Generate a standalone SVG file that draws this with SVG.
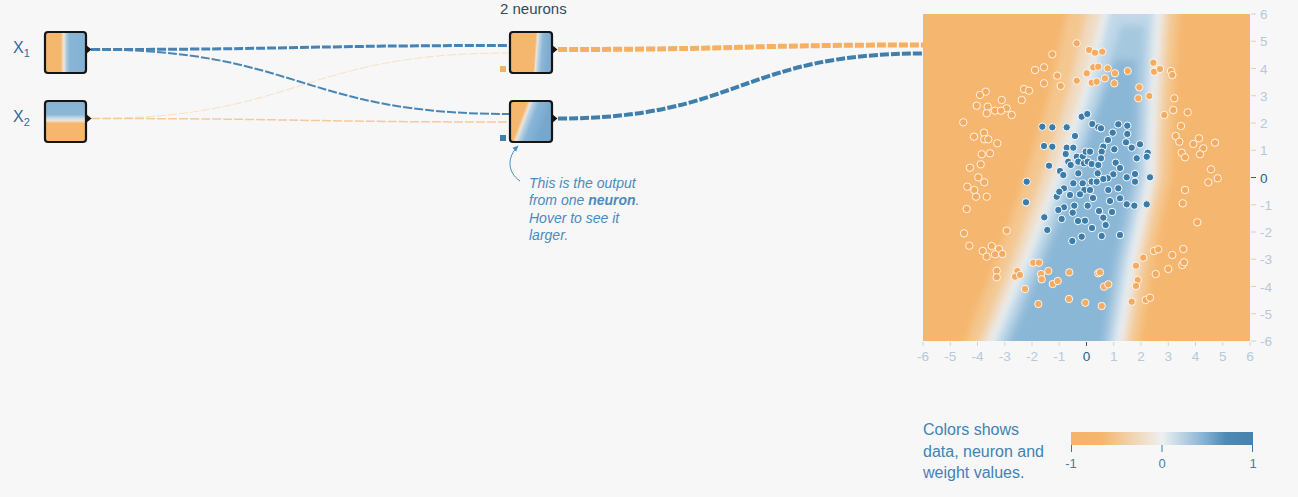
<svg xmlns="http://www.w3.org/2000/svg" width="1298" height="497" viewBox="0 0 1298 497">
<style>
text{font-family:"Liberation Sans",Arial,sans-serif}
.nodebox{fill:none;stroke:#151515;stroke-width:2.2}
.tri{fill:#151515}
.link{fill:none;stroke-dasharray:9 2}
.o{fill:#f5ab60;stroke:#fff;stroke-opacity:.85;stroke-width:1}
.b{fill:#3b7cab;stroke:#fff;stroke-width:1}
.ax{font-size:13.5px;fill:#b5c9da}
.ax0{font-size:13.5px;fill:#235f8f}
.tick{stroke:#c5d5e2;stroke-width:1}
.legt{font-size:16px;fill:#4282b6}
.ann{font-size:14px;font-style:italic;fill:#4a8bc0}
</style>
<defs>
<linearGradient id="gx1" x1="45" y1="0" x2="86" y2="0" gradientUnits="userSpaceOnUse">
<stop offset="0" stop-color="#f5b66e"/><stop offset="0.38" stop-color="#f5b66e"/><stop offset="0.46" stop-color="#efe6dc"/><stop offset="0.53" stop-color="#a9c9e0"/><stop offset="0.6" stop-color="#8ab6d6"/><stop offset="1" stop-color="#83b1d4"/>
</linearGradient>
<linearGradient id="gx2" x1="0" y1="101" x2="0" y2="142" gradientUnits="userSpaceOnUse">
<stop offset="0" stop-color="#86b3d5"/><stop offset="0.33" stop-color="#8cb7d7"/><stop offset="0.42" stop-color="#c8dcea"/><stop offset="0.48" stop-color="#f0e2d0"/><stop offset="0.55" stop-color="#f5b66e"/><stop offset="1" stop-color="#f5b66e"/>
</linearGradient>
<linearGradient id="gn1" x1="527" y1="52" x2="548" y2="53.5" gradientUnits="userSpaceOnUse">
<stop offset="0" stop-color="#f5b66e"/><stop offset="0.36" stop-color="#f5b66e"/><stop offset="0.45" stop-color="#f1e3d2"/><stop offset="0.55" stop-color="#b9d4e7"/><stop offset="0.72" stop-color="#8cb8d7"/><stop offset="1" stop-color="#7eadd1"/>
</linearGradient>
<linearGradient id="gn2" x1="510.4" y1="116.1" x2="542.2" y2="128" gradientUnits="userSpaceOnUse">
<stop offset="0" stop-color="#f5b66e"/><stop offset="0.31" stop-color="#f5b66e"/><stop offset="0.41" stop-color="#efe3d5"/><stop offset="0.5" stop-color="#b3d0e5"/><stop offset="0.65" stop-color="#89b6d6"/><stop offset="1" stop-color="#76a8cf"/>
</linearGradient>
<linearGradient id="glegend" x1="0" y1="0" x2="1" y2="0">
<stop offset="0" stop-color="#f5b36a"/><stop offset="0.17" stop-color="#f5b66f"/><stop offset="0.5" stop-color="#eef0f0"/><stop offset="0.72" stop-color="#8ab6d6"/><stop offset="0.85" stop-color="#4f8ab4"/><stop offset="1" stop-color="#4682ad"/>
</linearGradient>
<clipPath id="plotClip"><rect x="923" y="14" width="327" height="327"/></clipPath>
<filter id="soft" x="-20%" y="-20%" width="140%" height="140%"><feGaussianBlur stdDeviation="3.5"/></filter>
<marker id="annArrow" viewBox="0 0 10 10" refX="8" refY="5" markerWidth="7" markerHeight="7" orient="auto">
<path d="M0,1 L9,5 L0,9 z" fill="#4a8bc0"/>
</marker>
</defs>
<rect x="0" y="0" width="1298" height="497" fill="#f7f7f7"/>

<g id="connectors">
<path class="link" d="M91,118.5 C300,118.5 300,53 509,53" stroke="#f7e0c5" stroke-width="1"/>
<path class="link" d="M91,118.5 C300,118.5 300,122 509,122" stroke="#f3c99c" stroke-width="1.5"/>
<path class="link" d="M91,49.5 C300,49.5 300,114 509,114" stroke="#4a86b5" stroke-width="2"/>
<path class="link" d="M91,49.5 C300,49.5 300,45.5 509,45.5" stroke="#4682b4" stroke-width="3"/>
<path class="link" d="M558,49.5 C740,49.5 740,45 923,45" stroke="#f5b062" stroke-width="5"/>
<path class="link" d="M558,118.5 C740,118.5 740,53.5 923,53.5" stroke="#3f7fab" stroke-width="4"/>
<rect x="500" y="66" width="6" height="6" fill="#f5b062"/>
<rect x="500" y="135" width="6" height="6" fill="#3f7fab"/>
</g>

<text x="500" y="14" font-size="15" fill="#34495e">2 neurons</text>

<g id="node-x1">
<rect x="45" y="32" width="41" height="41" rx="3" fill="url(#gx1)"/>
<rect class="nodebox" x="45" y="32" width="41" height="41" rx="3"/>
<polygon class="tri" points="86,45 91.5,49.5 86,54"/>
<text x="13" y="53" font-size="16" fill="#35699a">X<tspan font-size="11" dy="4">1</tspan></text>
</g>
<g id="node-x2">
<rect x="45" y="101" width="41" height="41" rx="3" fill="url(#gx2)"/>
<rect class="nodebox" x="45" y="101" width="41" height="41" rx="3"/>
<polygon class="tri" points="86,114 91.5,118.5 86,123"/>
<text x="13" y="122" font-size="16" fill="#35699a">X<tspan font-size="11" dy="4">2</tspan></text>
</g>
<g id="node-n1">
<rect x="510" y="32" width="42" height="41" rx="3" fill="url(#gn1)"/>
<rect class="nodebox" x="510" y="32" width="42" height="41" rx="3"/>
<polygon class="tri" points="552,45 557.5,49.5 552,54"/>
</g>
<g id="node-n2">
<rect x="510" y="101" width="42" height="41" rx="3" fill="url(#gn2)"/>
<rect class="nodebox" x="510" y="101" width="42" height="41" rx="3"/>
<polygon class="tri" points="552,114 557.5,118.5 552,123"/>
</g>

<g id="annotation">
<path d="M520,181 C507,172 507,157 518,146" fill="none" stroke="#4a8bc0" stroke-width="1" marker-end="url(#annArrow)"/>
<text class="ann" x="529" y="188">This is the output</text>
<text class="ann" x="529" y="205">from one <tspan font-weight="bold">neuron</tspan>.</text>
<text class="ann" x="529" y="223">Hover to see it</text>
<text class="ann" x="529" y="240">larger.</text>
</g>

<g id="node-output">
<g clip-path="url(#plotClip)">
<rect x="923" y="14" width="327" height="327" fill="#f5b770"/>
<g filter="url(#soft)">
<polygon fill="#f4c790" points="1073,-10 1067,14 1050,95 1026,177 997,260 966,341 956,365 1139,365 1139,341 1152,260 1170,177 1173,95 1178,14 1178,-10"/>
<polygon fill="#f0dbc2" points="1093,-10 1087,14 1068,95 1042,177 1012,260 980,341 970,365 1124,365 1129,341 1142,260 1160,177 1163,95 1168,14 1168,-10"/>
<polygon fill="#e9eef1" points="1107,-10 1101,14 1081,95 1054,177 1022,260 988,341 978,365 1118,365 1123,341 1136,260 1154,177 1157,95 1162,14 1162,-10"/>
<polygon fill="#c0d8e8" points="1115,-10 1109,14 1089,95 1062,177 1030,260 996,341 986,365 1110,365 1115,341 1128,260 1146,177 1149,95 1154,14 1154,-10"/>
<polygon fill="#a6c8df" points="1121,25 1099,95 1070,177 1038,260 1004,341 994,365 1104,365 1109,341 1122,260 1140,177 1143,95 1145,25"/>
<polygon fill="#8bb7d7" points="1115,60 1094,120 1076,177 1044,260 1010,341 1000,365 1100,365 1104,341 1116,260 1134,177 1137,120 1136,60"/>
</g>
</g>
<g id="points">
<circle class="o" r="3.7" cx="1076.7" cy="43.3"/><circle class="o" r="3.7" cx="1052.3" cy="54.3"/><circle class="o" r="3.7" cx="1035" cy="70"/><circle class="o" r="3.7" cx="1044" cy="67.3"/><circle class="o" r="3.7" cx="1057.3" cy="75.7"/><circle class="o" r="3.7" cx="1044" cy="83.3"/><circle class="o" r="3.7" cx="1076.7" cy="80.7"/><circle class="o" r="3.7" cx="1060.7" cy="86"/><circle class="o" r="3.7" cx="1024" cy="89"/><circle class="o" r="3.7" cx="1029" cy="90.7"/><circle class="o" r="3.7" cx="1021.7" cy="100"/><circle class="o" r="3.7" cx="985.7" cy="91.7"/><circle class="o" r="3.7" cx="980" cy="95"/><circle class="o" r="3.7" cx="1001.7" cy="100"/><circle class="o" r="3.7" cx="976.7" cy="105.7"/><circle class="o" r="3.7" cx="987.7" cy="106.7"/><circle class="o" r="3.7" cx="1006.7" cy="108.3"/><circle class="o" r="3.7" cx="995" cy="110.7"/><circle class="o" r="3.7" cx="1001" cy="110.7"/><circle class="o" r="3.7" cx="986.7" cy="113.3"/><circle class="o" r="3.7" cx="1011.7" cy="115"/><circle class="o" r="3.7" cx="963.3" cy="122.3"/><circle class="o" r="3.7" cx="974" cy="136.7"/><circle class="o" r="3.7" cx="984" cy="132.7"/><circle class="o" r="3.7" cx="984.3" cy="139.3"/><circle class="o" r="3.7" cx="988.3" cy="139.3"/><circle class="o" r="3.7" cx="997.3" cy="143.3"/><circle class="o" r="3.7" cx="981.7" cy="154.3"/><circle class="o" r="3.7" cx="990" cy="153.3"/><circle class="o" r="3.7" cx="980.7" cy="164.3"/><circle class="o" r="3.7" cx="970" cy="167.7"/><circle class="o" r="3.7" cx="978.3" cy="177.3"/>
<circle class="o" r="3.7" cx="1089" cy="50"/><circle class="o" r="3.7" cx="1095" cy="52.7"/><circle class="o" r="3.7" cx="1102.3" cy="51.7"/><circle class="o" r="3.7" cx="1086.7" cy="73.3"/><circle class="o" r="3.7" cx="1093.3" cy="67.3"/><circle class="o" r="3.7" cx="1098.3" cy="66.7"/><circle class="o" r="3.7" cx="1107.7" cy="68.3"/><circle class="o" r="3.7" cx="1115" cy="73.3"/><circle class="o" r="3.7" cx="1114.3" cy="83.3"/><circle class="o" r="3.7" cx="1105" cy="78.3"/><circle class="o" r="3.7" cx="1091.7" cy="82.7"/><circle class="o" r="3.7" cx="1096.7" cy="81.7"/><circle class="o" r="3.7" cx="1127.7" cy="71"/><circle class="o" r="3.7" cx="1153.3" cy="62.7"/><circle class="o" r="3.7" cx="1154" cy="71.7"/><circle class="o" r="3.7" cx="1160" cy="69"/><circle class="o" r="3.7" cx="1171" cy="71"/><circle class="o" r="3.7" cx="1172.3" cy="75"/><circle class="o" r="3.7" cx="1139.3" cy="87.3"/><circle class="o" r="3.7" cx="1138.3" cy="98.3"/><circle class="o" r="3.7" cx="1149.3" cy="96"/><circle class="o" r="3.7" cx="1174.3" cy="98.3"/><circle class="o" r="3.7" cx="1173.3" cy="110"/><circle class="o" r="3.7" cx="1164.3" cy="115"/><circle class="o" r="3.7" cx="1187.7" cy="112.3"/><circle class="o" r="3.7" cx="1181" cy="126"/><circle class="o" r="3.7" cx="1175.7" cy="136"/><circle class="o" r="3.7" cx="1179.3" cy="141.7"/><circle class="o" r="3.7" cx="1199" cy="138.3"/><circle class="o" r="3.7" cx="1193.3" cy="144"/><circle class="o" r="3.7" cx="1203.3" cy="148.3"/><circle class="o" r="3.7" cx="1215" cy="142.7"/><circle class="o" r="3.7" cx="1181.7" cy="152.7"/><circle class="o" r="3.7" cx="1185" cy="157.3"/><circle class="o" r="3.7" cx="1200" cy="154.3"/><circle class="o" r="3.7" cx="1211" cy="169.3"/><circle class="o" r="3.7" cx="1217.7" cy="178.3"/>
<circle class="o" r="3.7" cx="984.3" cy="182.3"/><circle class="o" r="3.7" cx="967.3" cy="186.7"/><circle class="o" r="3.7" cx="974.3" cy="190"/><circle class="o" r="3.7" cx="976" cy="196.7"/><circle class="o" r="3.7" cx="986.7" cy="196.7"/><circle class="o" r="3.7" cx="966.7" cy="209"/><circle class="o" r="3.7" cx="964" cy="233.3"/><circle class="o" r="3.7" cx="1006.7" cy="230.7"/><circle class="o" r="3.7" cx="969.3" cy="245.7"/><circle class="o" r="3.7" cx="982.7" cy="251"/><circle class="o" r="3.7" cx="991.7" cy="246"/><circle class="o" r="3.7" cx="999" cy="249"/><circle class="o" r="3.7" cx="986.7" cy="256.7"/><circle class="o" r="3.7" cx="995" cy="254.3"/><circle class="o" r="3.7" cx="1002.3" cy="254"/><circle class="o" r="3.7" cx="996.7" cy="270.7"/><circle class="o" r="3.7" cx="996.7" cy="277.3"/><circle class="o" r="3.7" cx="1017.3" cy="271"/><circle class="o" r="3.7" cx="1015" cy="276.7"/><circle class="o" r="3.7" cx="1020" cy="275"/><circle class="o" r="3.7" cx="1033.3" cy="262.7"/><circle class="o" r="3.7" cx="1039" cy="262.7"/><circle class="o" r="3.7" cx="1041" cy="274"/><circle class="o" r="3.7" cx="1048.3" cy="271"/><circle class="o" r="3.7" cx="1041.7" cy="279.3"/><circle class="o" r="3.7" cx="1052.7" cy="284"/><circle class="o" r="3.7" cx="1057.7" cy="281"/><circle class="o" r="3.7" cx="1069.3" cy="272.3"/><circle class="o" r="3.7" cx="1025" cy="289"/><circle class="o" r="3.7" cx="1038.3" cy="304"/><circle class="o" r="3.7" cx="1069" cy="299"/><circle class="o" r="3.7" cx="1085.3" cy="302.7"/>
<circle class="o" r="3.7" cx="1185" cy="190"/><circle class="o" r="3.7" cx="1182.7" cy="203.3"/><circle class="o" r="3.7" cx="1197.3" cy="222.3"/><circle class="o" r="3.7" cx="1208.3" cy="182.3"/><circle class="o" r="3.7" cx="1143.3" cy="257.7"/><circle class="o" r="3.7" cx="1154" cy="251"/><circle class="o" r="3.7" cx="1158.3" cy="249.3"/><circle class="o" r="3.7" cx="1172.3" cy="255"/><circle class="o" r="3.7" cx="1183.3" cy="249"/><circle class="o" r="3.7" cx="1182.3" cy="265"/><circle class="o" r="3.7" cx="1184" cy="262.3"/><circle class="o" r="3.7" cx="1168.3" cy="269"/><circle class="o" r="3.7" cx="1155.7" cy="274"/><circle class="o" r="3.7" cx="1136" cy="265.7"/><circle class="o" r="3.7" cx="1137.7" cy="280"/><circle class="o" r="3.7" cx="1136" cy="286"/><circle class="o" r="3.7" cx="1098.3" cy="273.3"/><circle class="o" r="3.7" cx="1100" cy="272.3"/><circle class="o" r="3.7" cx="1104" cy="286.7"/><circle class="o" r="3.7" cx="1108.3" cy="284.3"/><circle class="o" r="3.7" cx="1101.7" cy="306"/><circle class="o" r="3.7" cx="1131.7" cy="301.7"/><circle class="o" r="3.7" cx="1145.7" cy="300"/><circle class="o" r="3.7" cx="1150" cy="297.7"/>
<circle class="b" r="3.7" cx="1042.3" cy="126.7"/><circle class="b" r="3.7" cx="1052.3" cy="127.3"/><circle class="b" r="3.7" cx="1066.7" cy="127.3"/><circle class="b" r="3.7" cx="1044" cy="146"/><circle class="b" r="3.7" cx="1052.3" cy="146.7"/><circle class="b" r="3.7" cx="1066.7" cy="147.7"/><circle class="b" r="3.7" cx="1073.3" cy="147.7"/><circle class="b" r="3.7" cx="1065.7" cy="154"/><circle class="b" r="3.7" cx="1081.7" cy="116.7"/><circle class="b" r="3.7" cx="1087.3" cy="114"/><circle class="b" r="3.7" cx="1076.7" cy="156.7"/><circle class="b" r="3.7" cx="1082.7" cy="156.7"/><circle class="b" r="3.7" cx="1085.7" cy="151.7"/><circle class="b" r="3.7" cx="1049" cy="165.7"/><circle class="b" r="3.7" cx="1060" cy="171"/><circle class="b" r="3.7" cx="1068.3" cy="161.7"/><circle class="b" r="3.7" cx="1070.7" cy="165"/><circle class="b" r="3.7" cx="1078.3" cy="161.7"/><circle class="b" r="3.7" cx="1084" cy="163.3"/><circle class="b" r="3.7" cx="1078.3" cy="173.3"/><circle class="b" r="3.7" cx="1063.3" cy="175"/>
<circle class="b" r="3.7" cx="1092.3" cy="124"/><circle class="b" r="3.7" cx="1098.3" cy="127.3"/><circle class="b" r="3.7" cx="1101" cy="128.3"/><circle class="b" r="3.7" cx="1118.3" cy="124.3"/><circle class="b" r="3.7" cx="1127.3" cy="125.7"/><circle class="b" r="3.7" cx="1112.7" cy="132.7"/><circle class="b" r="3.7" cx="1127.3" cy="134"/><circle class="b" r="3.7" cx="1126" cy="142.3"/><circle class="b" r="3.7" cx="1140" cy="144.3"/><circle class="b" r="3.7" cx="1131.7" cy="147.7"/><circle class="b" r="3.7" cx="1114.3" cy="149.3"/><circle class="b" r="3.7" cx="1103.3" cy="146.7"/><circle class="b" r="3.7" cx="1101.7" cy="151.7"/><circle class="b" r="3.7" cx="1090" cy="151.7"/><circle class="b" r="3.7" cx="1136.7" cy="158.3"/><circle class="b" r="3.7" cx="1147.7" cy="152.7"/><circle class="b" r="3.7" cx="1146.7" cy="156.7"/><circle class="b" r="3.7" cx="1087.7" cy="161.7"/><circle class="b" r="3.7" cx="1091.7" cy="164"/><circle class="b" r="3.7" cx="1098.3" cy="165"/><circle class="b" r="3.7" cx="1101" cy="158.3"/><circle class="b" r="3.7" cx="1115.7" cy="162.7"/><circle class="b" r="3.7" cx="1097.7" cy="173.3"/><circle class="b" r="3.7" cx="1113.3" cy="174.3"/><circle class="b" r="3.7" cx="1135" cy="174"/><circle class="b" r="3.7" cx="1150" cy="177.3"/><circle class="b" r="3.7" cx="1126.7" cy="177.3"/><circle class="b" r="3.7" cx="1107.7" cy="178.3"/>
<circle class="b" r="3.7" cx="1026.7" cy="181.7"/><circle class="b" r="3.7" cx="1026" cy="202.3"/><circle class="b" r="3.7" cx="1044.3" cy="217.3"/><circle class="b" r="3.7" cx="1047.3" cy="230"/><circle class="b" r="3.7" cx="1072.3" cy="241"/><circle class="b" r="3.7" cx="1081.7" cy="236.7"/><circle class="b" r="3.7" cx="1056.7" cy="196.7"/><circle class="b" r="3.7" cx="1064" cy="188.3"/><circle class="b" r="3.7" cx="1059.3" cy="191.7"/><circle class="b" r="3.7" cx="1073.3" cy="183.3"/><circle class="b" r="3.7" cx="1082.7" cy="183.3"/><circle class="b" r="3.7" cx="1084.3" cy="190"/><circle class="b" r="3.7" cx="1080" cy="194.3"/><circle class="b" r="3.7" cx="1074.3" cy="205.7"/><circle class="b" r="3.7" cx="1064" cy="207.3"/><circle class="b" r="3.7" cx="1058.3" cy="210"/><circle class="b" r="3.7" cx="1072.7" cy="212.7"/><circle class="b" r="3.7" cx="1061.7" cy="219"/><circle class="b" r="3.7" cx="1085" cy="220.7"/>
<circle class="b" r="3.7" cx="1091.7" cy="181.7"/><circle class="b" r="3.7" cx="1096.7" cy="181.7"/><circle class="b" r="3.7" cx="1103.3" cy="179"/><circle class="b" r="3.7" cx="1135" cy="181.7"/><circle class="b" r="3.7" cx="1108.3" cy="190"/><circle class="b" r="3.7" cx="1118.3" cy="188.3"/><circle class="b" r="3.7" cx="1090" cy="190"/><circle class="b" r="3.7" cx="1110" cy="201"/><circle class="b" r="3.7" cx="1120" cy="198.3"/><circle class="b" r="3.7" cx="1126.7" cy="204.3"/><circle class="b" r="3.7" cx="1134.3" cy="205.7"/><circle class="b" r="3.7" cx="1146.7" cy="204.3"/><circle class="b" r="3.7" cx="1087.7" cy="205.7"/><circle class="b" r="3.7" cx="1099" cy="211"/><circle class="b" r="3.7" cx="1103.3" cy="217.7"/><circle class="b" r="3.7" cx="1105.7" cy="225"/><circle class="b" r="3.7" cx="1101.7" cy="236"/><circle class="b" r="3.7" cx="1120" cy="235"/>
<circle class="b" r="3.7" cx="1070" cy="195"/><circle class="b" r="3.7" cx="1093" cy="198"/><circle class="b" r="3.7" cx="1078" cy="221"/><circle class="b" r="3.7" cx="1092" cy="228"/><circle class="b" r="3.7" cx="1112" cy="212"/><circle class="b" r="3.7" cx="1120" cy="168"/><circle class="b" r="3.7" cx="1108" cy="140"/><circle class="b" r="3.7" cx="1075" cy="136"/>
</g>
</g>

<g id="axes">
<line class="tick" x1="1251" y1="14" x2="1256" y2="14"/><line class="tick" x1="1251" y1="41.25" x2="1256" y2="41.25"/><line class="tick" x1="1251" y1="68.5" x2="1256" y2="68.5"/><line class="tick" x1="1251" y1="95.75" x2="1256" y2="95.75"/><line class="tick" x1="1251" y1="123" x2="1256" y2="123"/><line class="tick" x1="1251" y1="150.25" x2="1256" y2="150.25"/><line x1="1251" y1="177.5" x2="1256" y2="177.5" stroke="#235f8f"/><line class="tick" x1="1251" y1="204.75" x2="1256" y2="204.75"/><line class="tick" x1="1251" y1="232" x2="1256" y2="232"/><line class="tick" x1="1251" y1="259.25" x2="1256" y2="259.25"/><line class="tick" x1="1251" y1="286.5" x2="1256" y2="286.5"/><line class="tick" x1="1251" y1="313.75" x2="1256" y2="313.75"/><line class="tick" x1="1251" y1="341" x2="1256" y2="341"/>
<text class="ax" x="1260" y="19">6</text><text class="ax" x="1260" y="46.25">5</text><text class="ax" x="1260" y="73.5">4</text><text class="ax" x="1260" y="100.75">3</text><text class="ax" x="1260" y="128">2</text><text class="ax" x="1260" y="155.25">1</text><text class="ax0" x="1260" y="182.5">0</text><text class="ax" x="1260" y="209.75">-1</text><text class="ax" x="1260" y="237">-2</text><text class="ax" x="1260" y="264.25">-3</text><text class="ax" x="1260" y="291.5">-4</text><text class="ax" x="1260" y="318.75">-5</text><text class="ax" x="1260" y="346">-6</text>
<line class="tick" x1="923" y1="342" x2="923" y2="346"/><line class="tick" x1="950.25" y1="342" x2="950.25" y2="346"/><line class="tick" x1="977.5" y1="342" x2="977.5" y2="346"/><line class="tick" x1="1004.75" y1="342" x2="1004.75" y2="346"/><line class="tick" x1="1032" y1="342" x2="1032" y2="346"/><line class="tick" x1="1059.25" y1="342" x2="1059.25" y2="346"/><line x1="1086.5" y1="342" x2="1086.5" y2="346" stroke="#235f8f"/><line class="tick" x1="1113.75" y1="342" x2="1113.75" y2="346"/><line class="tick" x1="1141" y1="342" x2="1141" y2="346"/><line class="tick" x1="1168.25" y1="342" x2="1168.25" y2="346"/><line class="tick" x1="1195.5" y1="342" x2="1195.5" y2="346"/><line class="tick" x1="1222.75" y1="342" x2="1222.75" y2="346"/><line class="tick" x1="1250" y1="342" x2="1250" y2="346"/>
<g text-anchor="middle">
<text class="ax" x="923" y="361">-6</text><text class="ax" x="950.25" y="361">-5</text><text class="ax" x="977.5" y="361">-4</text><text class="ax" x="1004.75" y="361">-3</text><text class="ax" x="1032" y="361">-2</text><text class="ax" x="1059.25" y="361">-1</text><text class="ax0" x="1086.5" y="361">0</text><text class="ax" x="1113.75" y="361">1</text><text class="ax" x="1141" y="361">2</text><text class="ax" x="1168.25" y="361">3</text><text class="ax" x="1195.5" y="361">4</text><text class="ax" x="1222.75" y="361">5</text><text class="ax" x="1250" y="361">6</text>
</g>
</g>

<g id="legend">
<text class="legt" x="923" y="435">Colors shows</text>
<text class="legt" x="923" y="457">data, neuron and</text>
<text class="legt" x="923" y="478">weight values.</text>
<rect x="1071" y="432" width="182" height="13" fill="url(#glegend)"/>
<g stroke="#3f78a6" stroke-width="1">
<line x1="1071.5" y1="445" x2="1071.5" y2="452"/><line x1="1162" y1="445" x2="1162" y2="452"/><line x1="1252.5" y1="445" x2="1252.5" y2="452"/>
</g>
<g text-anchor="middle" font-size="13" fill="#4a7fa8">
<text x="1071" y="468">-1</text><text x="1162" y="468">0</text><text x="1253" y="468">1</text>
</g>
</g>
</svg>
